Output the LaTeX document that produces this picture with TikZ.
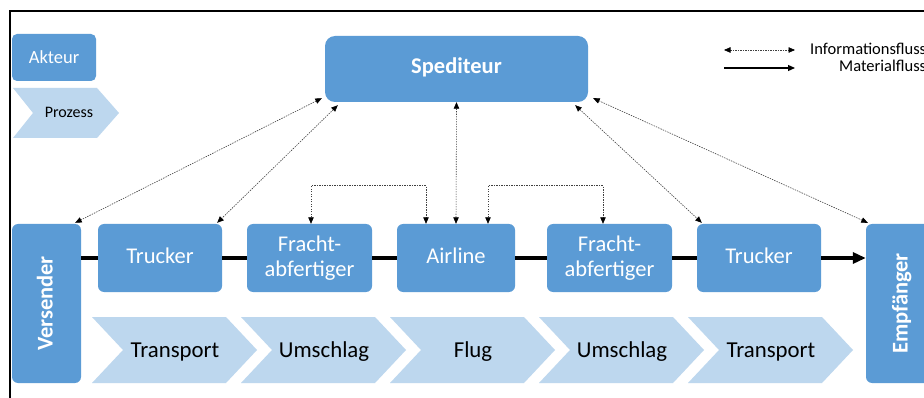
\documentclass[tikz,border=0pt]{standalone}
\usepackage{fontspec}
\setmainfont{Carlito}
\usetikzlibrary{arrows.meta,calc}
\definecolor{boxblue}{RGB}{91,155,213}
\definecolor{proclight}{RGB}{189,215,238}
\newcommand{\mychev}[3]{%
  \fill[proclight] (#1,317) -- ++(134,0) -- ++(31,33) -- ++(-31,33) -- ++(-134,0) -- ++(31,-33) -- cycle;
  \node[proctext] (#2) at ({#1+83},357) {#3};}
\begin{document}
\begin{tikzpicture}[x=1pt,y=-1pt,
  actor/.style={fill=boxblue, rounded corners=6pt, text=white, inner sep=0pt,
    font=\fontsize{22.5}{25.5}\selectfont},
  oneline/.style={text height=14pt, text depth=2pt},
  proctext/.style={anchor=base, inner sep=0pt, text=black, font=\fontsize{22.8}{25}\selectfont},
  info/.style={draw=black!75, line width=0.6pt, dash pattern=on 1.4pt off 1.1pt,
    {Triangle[length=6.5pt,width=5.5pt,fill=black,color=black]}-{Triangle[length=6.5pt,width=5.5pt,fill=black,color=black]}},
  mat/.style={draw=black, line width=3.2pt},
  legendtext/.style={inner sep=0pt, text=black, font=\fontsize{16.5}{18}\selectfont}]
\useasboundingbox (0,0) rectangle (924,398);
\clip (0,0) rectangle (924,398);
\fill[white] (0,0) rectangle (924,398);
\draw[line width=2pt] (10,400) -- (10,11) -- (930,11);

% legend (left)
\node[actor, oneline, rounded corners=5pt, minimum width=84pt, minimum height=47pt,
  font=\fontsize{18.5}{20}\selectfont, text height=12.5pt, text depth=1pt] (akteur) at (54,57.5) {Akteur};
\fill[proclight] (13,88) -- (97,88) -- (119,113) -- (97,138) -- (13,138) -- (33,113) -- cycle;
\node[anchor=base, inner sep=0pt, font=\fontsize{16}{17}\selectfont] (prozess) at (69,117.3) {Prozess};

% legend (right)
\coordinate (li1) at (724,50);
\coordinate (li2) at (795,50);
\coordinate (lm1) at (724,68);
\coordinate (lm2) at (795,68);
\draw[info] (li1) -- (li2);
\draw[draw=black, line width=1.2pt, -{Triangle[length=7pt,width=6pt]}] (lm1) -- (lm2);
\node[legendtext, anchor=base west] (linfo) at (810,55) {Informationsfluss};
\node[legendtext, anchor=base east] (lmat) at ($(linfo.base east)+(0,17)$) {Materialfluss};

% actors
\node[actor, oneline, minimum width=263pt, minimum height=66pt, rounded corners=10pt,
  font=\bfseries\fontsize{22.5}{25}\selectfont, text depth=4pt] (sped) at (456.5,69) {Spediteur};
\node[actor, minimum width=69pt, minimum height=159pt] (vers) at (46.5,303.5) {};
\node[rotate=90, text=white, inner sep=0pt, text height=14pt, text depth=2pt,
  font=\bfseries\fontsize{22.5}{25}\selectfont] (verstext) at (vers.center) {Versender};
\node[actor, minimum width=72pt, minimum height=159pt] (emp) at (902,303.5) {};
\node[rotate=90, text=white, inner sep=0pt, text height=14pt, text depth=3pt,
  font=\bfseries\fontsize{22.5}{25}\selectfont] (emptext) at (emp.center) {Empfänger};
\node[actor, oneline, minimum width=124pt, minimum height=68pt] (t1) at (160,258) {Trucker};
\node[actor, align=center, minimum width=125pt, minimum height=68pt] (f1) at (309.5,258) {Fracht-\\abfertiger};
\node[actor, oneline, minimum width=118pt, minimum height=68pt] (air) at (456,258) {Airline};
\node[actor, align=center, minimum width=125pt, minimum height=68pt] (f2) at (609.5,258) {Fracht-\\abfertiger};
\node[actor, oneline, minimum width=124pt, minimum height=68pt] (t2) at (759,258) {Trucker};

% processes
\mychev{92}{p1}{Transport}
\mychev{241}{p2}{Umschlag}
\mychev{390}{p3}{Flug}
\mychev{539}{p4}{Umschlag}
\mychev{688}{p5}{Transport}

% material flow
\draw[mat] (t1.west -| vers.east) -- (t1.west);
\draw[mat] (t1.east) -- (f1.west);
\draw[mat] (f1.east) -- (air.west);
\draw[mat] (air.east) -- (f2.west);
\draw[mat] (f2.east) -- (t2.west);
\draw[mat, -{Triangle[length=13pt,width=11pt]}] (t2.east) -- (t2.east -| emp.west);

% information flow
\draw[info] ($(sped.south west)+(-3,-4)$) -- ($(vers.north east)+(-6,-1)$);
\draw[info] ($(sped.south west)+(13,3)$) -- ($(t1.north east)+(-5,-1)$);
\draw[info] (sped.south) -- (air.north);
\draw[info] ($(sped.south east)+(-13,3)$) -- ($(t2.north west)+(5,-1)$);
\draw[info] ($(sped.south east)+(5,-4)$) -- ($(emp.north west)+(2,-1)$);
\draw[info] ([xshift=1.5pt]f1.north) -- ++(0,-38) -| ([xshift=-30pt]air.north);
\draw[info] ([xshift=32pt]air.north) -- ++(0,-38) -| ([xshift=-6.5pt]f2.north);
\end{tikzpicture}
\end{document}
